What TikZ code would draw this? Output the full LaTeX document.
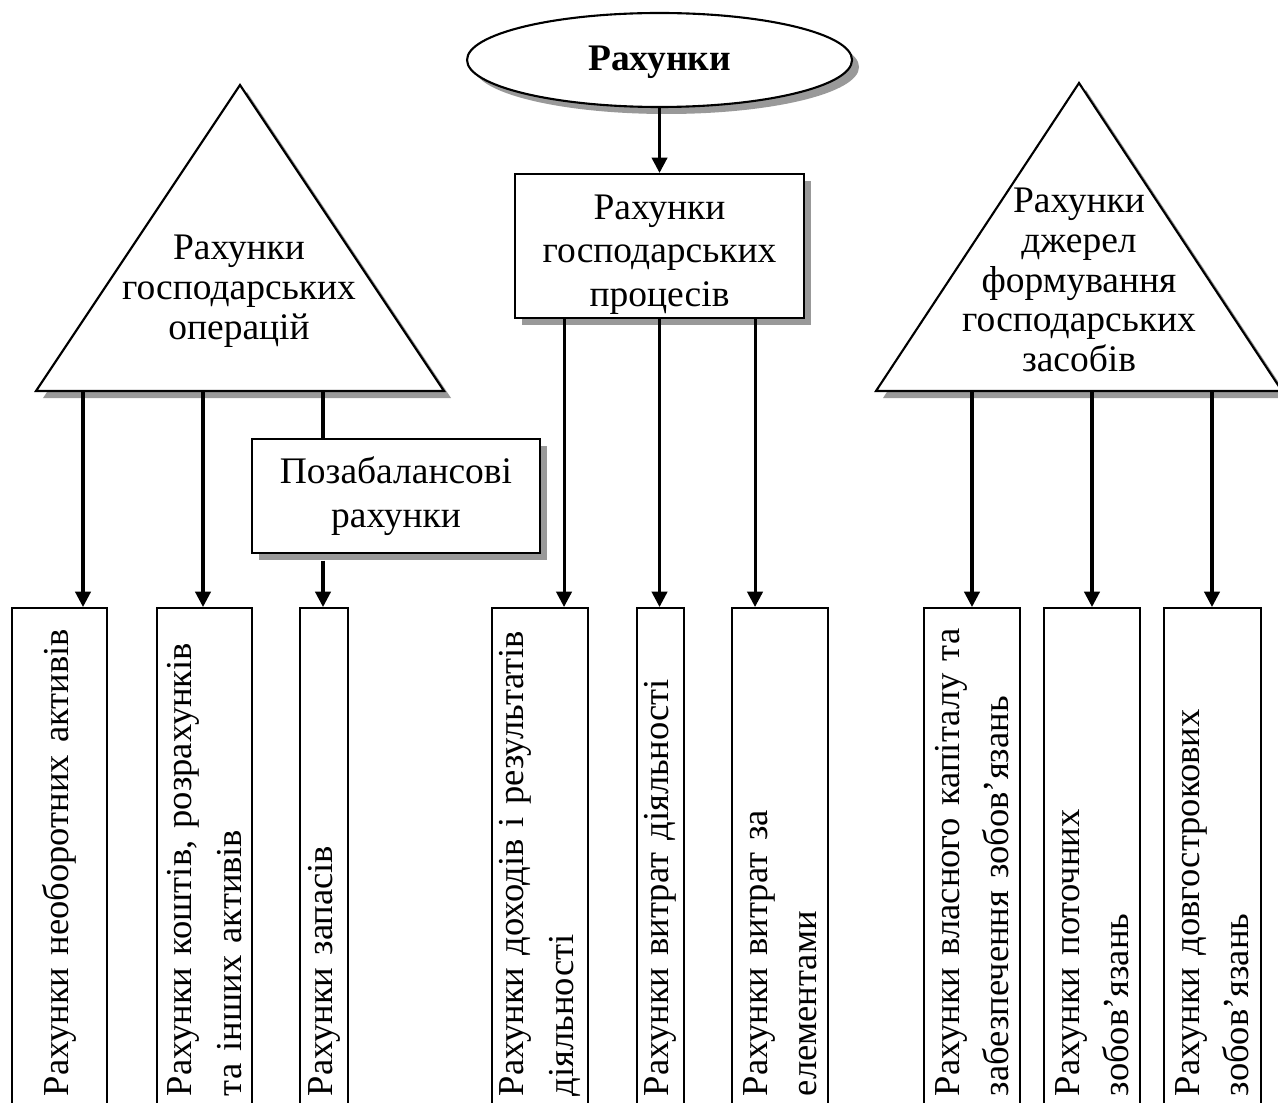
\documentclass[tikz,border=0pt]{standalone}
\usepackage{fontspec}
\setmainfont{Liberation Serif}
\usetikzlibrary{shapes.geometric,shadows,arrows.meta}

\tikzset{
	shadebox/.style={drop shadow={shadow xshift=0.105cm, shadow yshift=-0.105cm, fill=black!40, opacity=1}},
	topbox/.style={draw, line width=0.9pt, fill=white, shadebox, align=center, inner sep=0pt, font=\fontsize{16}{18.5}\selectfont},
	vbox/.style={draw, line width=1pt, rotate=90, anchor=east, align=left, text width=7.14cm, inner xsep=0.18cm, inner ysep=0pt, font=\fontsize{15.6}{21}\selectfont},
	trilabel/.style={align=center, font=\fontsize{16}{17}\selectfont},
	joint/.style={line width=1.3pt},
	jarrow/.style={joint, -{Triangle[length=0.23cm, width=0.23cm]}}
}

\begin{document}
\begin{tikzpicture}
			\useasboundingbox (0,0) rectangle (19.17,-16.545);
			% top
			\node[ellipse, draw, line width=0.9pt, fill=white, shadebox, minimum width=5.775cm, minimum height=1.41cm, inner sep=0pt, font=\bfseries\fontsize{16}{18}\selectfont] (root) at (9.893,-0.9) {\rule{0pt}{0.45cm}Рахунки};
			\node[topbox, minimum width=4.335cm, minimum height=2.16cm] (proc) at (9.893,-3.69) {\rule{0pt}{0.62cm}Рахунки\\господарських\\процесів};
			\draw[jarrow] (root) -- (proc);
			% triangles
			\draw[line width=0.9pt, fill=white, shadebox] (0.54,-5.865) -- (3.6,-1.275) -- (6.66,-5.865) -- cycle;
			\node[trilabel] (ops) at (3.585,-4.37) {Рахунки\\господарських\\операцій};
			\draw[line width=0.9pt, fill=white, shadebox] (13.14,-5.865) -- (16.185,-1.245) -- (19.23,-5.865) -- cycle;
			\node[trilabel] (src) at (16.185,-4.2) {Рахунки\\джерел\\формування\\господарських\\засобів};
			\coordinate (t1a) at (1.245,-5.865);
			\coordinate (t1b) at (3.045,-5.865);
			\coordinate (t1c) at (4.845,-5.865);
			\coordinate (t2a) at (14.58,-5.865);
			\coordinate (t2b) at (16.38,-5.865);
			\coordinate (t2c) at (18.18,-5.865);
			\node[topbox, minimum width=4.32cm, minimum height=1.71cm] (offbal) at (5.94,-7.44) {Позабалансові\\рахунки};
			% bottom row
			\node[vbox, minimum height=1.425cm] (neob) at (0.8925,-9.105) {Рахунки необоротних активів};
			\node[vbox, minimum height=1.425cm] (kosht) at (3.0675,-9.105) {Рахунки коштів, розрахунків\\та інших активів};
			\node[vbox, minimum height=0.72cm] (zapas) at (4.86,-9.105) {Рахунки запасів};
			\node[vbox, minimum height=1.44cm] (dohod) at (8.1,-9.105) {Рахунки доходів і результатів\\діяльності};
			\node[vbox, minimum height=0.705cm] (vytr) at (9.9075,-9.105) {Рахунки витрат діяльності};
			\node[vbox, minimum height=1.44cm] (elem) at (11.7,-9.105) {Рахунки витрат за\\елементами};
			\node[vbox, minimum height=1.44cm] (kapit) at (14.58,-9.105) {Рахунки власного капіталу та\\забезпечення зобов’язань};
			\node[vbox, minimum height=1.44cm] (potoch) at (16.38,-9.105) {Рахунки поточних\\зобов’язань};
			\node[vbox, minimum height=1.455cm] (dovg) at (18.1875,-9.105) {Рахунки довгострокових\\зобов’язань};
			% links
			\draw[jarrow] (t1a) -- (t1a |- neob.east);
			\draw[jarrow] (t1b) -- (t1b |- kosht.east);
			\draw[joint] (t1c) -- (t1c |- offbal.north);
			\draw[jarrow] ([yshift=-0.1cm]offbal.south -| t1c) -- (t1c |- zapas.east);
			\draw[jarrow] ([xshift=-1.4325cm]proc.south) -- ([xshift=-1.4325cm]proc.south |- dohod.east);
			\draw[jarrow] (proc.south) -- (proc.south |- vytr.east);
			\draw[jarrow] ([xshift=1.4325cm]proc.south) -- ([xshift=1.4325cm]proc.south |- elem.east);
			\draw[jarrow] (t2a) -- (t2a |- kapit.east);
			\draw[jarrow] (t2b) -- (t2b |- potoch.east);
			\draw[jarrow] (t2c) -- (t2c |- dovg.east);
		\end{tikzpicture}
\end{document}
